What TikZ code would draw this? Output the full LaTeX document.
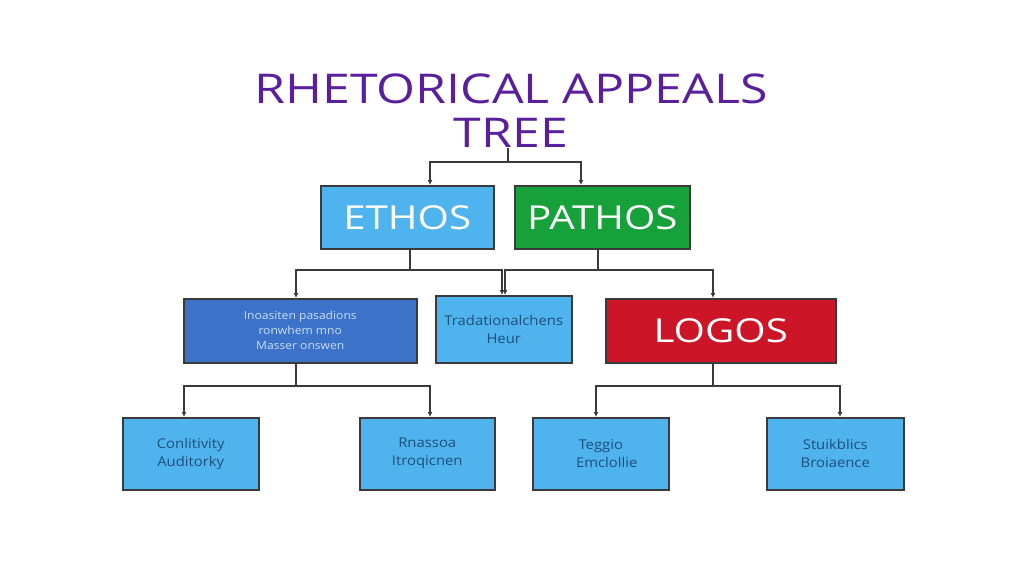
\documentclass[tikz,border=0pt]{standalone}
\usepackage{fontspec}
\setmainfont{Open Sans}
\newfontfamily\widefont[FakeStretch=1.22]{Open Sans}
\newfontfamily\smallwide[FakeStretch=1.1]{Open Sans}
\usetikzlibrary{arrows.meta}
\definecolor{titlepurple}{HTML}{5A1F9C}
\definecolor{lightblue}{HTML}{4FB3EE}
\definecolor{midblue}{HTML}{3C73C9}
\definecolor{gboxgreen}{HTML}{17A13A}
\definecolor{rboxred}{HTML}{CC1526}
\definecolor{edgegray}{HTML}{3A3A3A}
\definecolor{smalltext}{HTML}{1F4F7A}
\definecolor{palelabel}{HTML}{C9DDF6}
\tikzset{
  boxbase/.style={draw=edgegray, line width=1.5pt, inner sep=0pt, anchor=north west},
  bigbox/.style={boxbase, text=white, font=\widefont\fontsize{33}{36}\selectfont},
  leafbox/.style={boxbase, fill=lightblue, text=smalltext, align=center, font=\smallwide\fontsize{13.5}{18}\selectfont},
  conn/.style={draw=edgegray, line width=1.4pt},
  arr/.style={conn, -{Latex[length=5pt,width=5pt]}},
}
\begin{document}
\begin{tikzpicture}[x=1pt,y=-1pt]
\useasboundingbox[fill=white] (0,0) rectangle (1024,575);
% title
\node[text=titlepurple, align=center, font=\widefont\fontsize{41}{44}\selectfont] (title) at (511,111) {RHETORICAL APPEALS\\TREE};
% level 1
\node[bigbox, fill=lightblue, minimum width=173pt, minimum height=63pt] (ethos) at (320,185) {ETHOS};
\node[bigbox, fill=gboxgreen, minimum width=175pt, minimum height=63pt] (pathos) at (514,185) {PATHOS};
% level 2
\node[boxbase, fill=midblue, text=palelabel, align=center, minimum width=233pt, minimum height=64pt, font=\smallwide\fontsize{11}{15}\selectfont] (trad) at (183,298) {Inoasiten pasadions\\ronwhem mno\\Masser onswen};
\node[leafbox, minimum width=136pt, minimum height=67pt] (mid) at (435,295) {Tradationalchens\\Heur};
\node[bigbox, fill=rboxred, minimum width=230pt, minimum height=64pt] (logos) at (605,298) {LOGOS};
% level 3
\node[leafbox, minimum width=136pt, minimum height=72pt] (b1) at (122,417) {Conlitivity\\Auditorky};
\node[leafbox, minimum width=135pt, minimum height=72pt] (b2) at (359,417) {Rnassoa\\Itroqicnen};
\node[leafbox, minimum width=136pt, minimum height=72pt] (b3) at (532,417) {Teggio\\\hspace*{12pt}Emclollie};
\node[leafbox, minimum width=137pt, minimum height=72pt] (b4) at (766,417) {Stuikblics\\Broiaence};
% connectors: title
\coordinate (tj) at (508,162);
\draw[conn] (508,148) -- (tj);
\draw[arr] (tj) -| (430,185);
\draw[arr] (tj) -| (581,185);
% ethos
\coordinate (ej) at (410,270);
\draw[conn] (410,248) -- (ej);
\draw[arr] (ej) -| (296,298);
\draw[arr] (ej) -| (502,295);
% pathos
\coordinate (pj) at (598,270);
\draw[conn] (598,248) -- (pj);
\draw[arr] (pj) -| (505,295);
\draw[arr] (pj) -| (713,298);
% trad
\coordinate (tr) at (296,386);
\draw[conn] (296,362) -- (tr);
\draw[arr] (tr) -| (184,417);
\draw[arr] (tr) -| (430,417);
% logos
\coordinate (lj) at (713,386);
\draw[conn] (713,362) -- (lj);
\draw[arr] (lj) -| (596,417);
\draw[arr] (lj) -| (840,417);
\end{tikzpicture}
\end{document}
